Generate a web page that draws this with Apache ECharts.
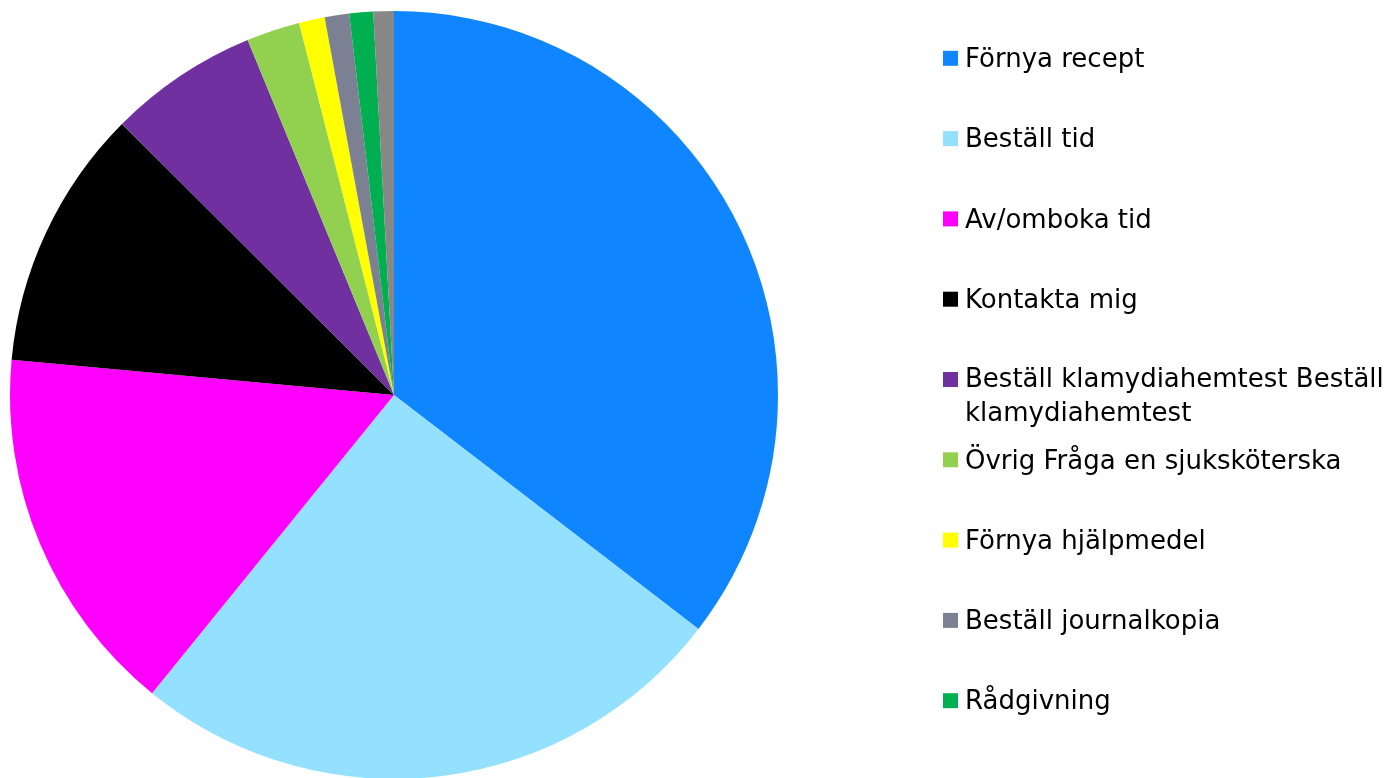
<!DOCTYPE html>
<html>
<head>
<meta charset="utf-8">
<script src="https://cdn.jsdelivr.net/npm/echarts@6/dist/echarts.min.js"></script>
<style>
  html, body { margin: 0; padding: 0; background: #fff; }
  #chart { width: 1395px; height: 778px; }
</style>
</head>
<body>
<div id="chart"></div>
<script>
// kategorier, medurs från kl 12
const names = [
  'Förnya recept',
  'Beställ tid',
  'Av/omboka tid',
  'Kontakta mig',
  'Beställ klamydiahemtest Beställ klamydiahemtest',
  'Övrig Fråga en sjuksköterska',
  'Förnya hjälpmedel',
  'Beställ journalkopia',
  'Rådgivning',
  'Övrigt'
]
// andelar i procent (avlästa)
const values = [35.4, 25.4, 15.6, 11.0, 6.3, 2.25, 1.08, 1.03, 1.0, 0.86]
const colors = ['#0F86FF', '#94E0FF', '#FF00FF', '#000000', '#7030A0',
  '#92D050', '#FFFF00', '#7B8193', '#00B050', '#878787']

// bara de 9 första syns i förklaringen
const legendNames = names.slice(0, 9)

const chart = echarts.init(document.getElementById('chart'))

const legends = legendNames.map((n, i) => {
  const iconCenter = 58.3 + i * 80.3
  const twoLine = n.indexOf('klamydiahemtest') >= 0
  return {
    orient: 'vertical',
    left: 943,
    top: iconCenter - (twoLine ? 36 : 18),
    padding: 0,
    itemWidth: 15,
    itemHeight: 15,
    icon: 'rect',
    selectedMode: false,
    data: [n],
    formatter: twoLine
      ? () => '{a|Beställ klamydiahemtest Beställ}\n{b|klamydiahemtest}'
      : undefined,
    textStyle: {
      fontFamily: 'DejaVu Sans',
      fontSize: 26,
      color: '#000',
      lineHeight: 32,
      padding: [4, 0, 0, 2],
      rich: {
        a: { fontFamily: 'DejaVu Sans', fontSize: 26, color: '#000', lineHeight: 66 },
        b: { fontFamily: 'DejaVu Sans', fontSize: 26, color: '#000', lineHeight: 2 }
      }
    }
  }
})

chart.setOption({
  animation: false,
  color: colors,
  legend: legends,
  series: [{
    type: 'pie',
    center: [394, 395],
    radius: 384,
    startAngle: 90,
    clockwise: true,
    label: { show: false },
    labelLine: { show: false },
    itemStyle: { borderWidth: 0 },
    emphasis: { disabled: true },
    data: names.map((n, i) => ({ name: n, value: values[i] }))
  }]
})
</script>
</body>
</html>
